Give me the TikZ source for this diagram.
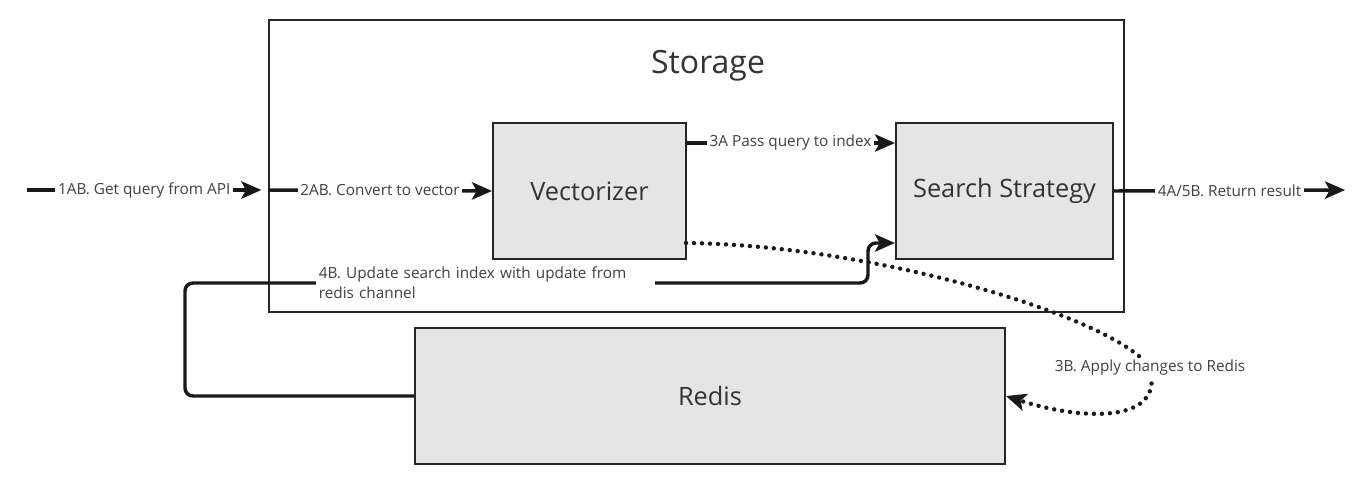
\documentclass[tikz,border=0pt]{standalone}
\usepackage{fontspec}
\setmainfont{Open Sans}
\usetikzlibrary{positioning}
\usetikzlibrary{arrows.meta}

\begin{document}
\begin{tikzpicture}[x=0.75pt, y=-0.75pt,
    box/.style={shape=rectangle, draw=black!85, line width=1.5pt, fill=black!10, text=black!80, font=\fontsize{19}{22}\selectfont},
    flow/.style={line width=2.6pt, draw=black!90, -{Stealth[length=15pt, width=13pt, inset=3.5pt]}},
    dots/.style={flow, line width=3.3pt, line cap=round, dash pattern=on 0pt off 6pt},
    lbl/.style={fill=white, inner sep=2pt, text=black!75, font=\fontsize{11.5}{15}\selectfont}]
        \useasboundingbox (0,0) rectangle (1362,479);

        % storage
        \node (store) at (696.5,166) [shape=rectangle, draw=black!85, line width=1.5pt, minimum width=641.25pt, minimum height=219pt] {};
        \node (title) at (708,66) [text=black!80, font=\fontsize{24}{28}\selectfont] {Storage};

        % boxes
        \node (vec) at (589.5,191) [box, minimum width=144.75pt, minimum height=102pt] {Vectorizer};
        \node (search) at (1004.5,191) [box, minimum width=162.75pt, minimum height=102pt] {Search Strategy};
        \node (redis) at (710,396) [box, minimum width=442.5pt, minimum height=102pt] {Redis};

        % free ends and bends
        \coordinate (in) at (27,190);
        \coordinate (out) at (1345,190);
        \coordinate (b1) at (185,396);
        \coordinate (b2) at (185,283);
        \coordinate (b3) at (868,283);
        \coordinate (b4) at (868,243);
        \coordinate (v1) at (686,243);
        \coordinate (v3) at (686,143);
        \coordinate (bend) at (1150,368);

        % connections
        \draw[flow] (in) -- node[lbl] {1AB. Get query from API} ([xshift=-5pt]in -| store.west);
        \draw[flow] (in -| store.west) -- node[lbl] {2AB. Convert to vector} (vec.west);
        \draw[flow] (v3) -- node[lbl] {3A Pass query to index} (v3 -| search.west);
        \draw[flow] (search.east) -- node[lbl] {4A/5B. Return result} (out);
        \draw[flow, rounded corners=6pt] (redis.west) -- (b1) -- (b2) -- node[lbl, pos=0.44, align=left, text width=250pt] {4B. Update search index with update from\\redis channel} (b3) -- (b4) -- (b4 -| search.west);
        \draw[dots] (v1) .. controls (880,245) and (1120,320) .. (bend) .. controls (1165,425) and (1080,420) .. (redis.east);
        \node (apply) at (bend) [lbl] {3B. Apply changes to Redis};
\end{tikzpicture}
\end{document}
